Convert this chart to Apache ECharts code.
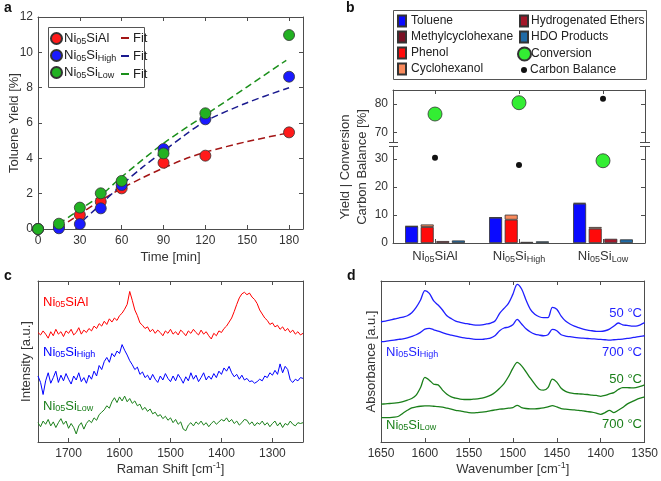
<!DOCTYPE html>
<html><head><meta charset="utf-8">
<script src="https://cdn.jsdelivr.net/npm/echarts@6/dist/echarts.min.js"></script>
<style>html,body{margin:0;padding:0;background:#fff}#c{width:661px;height:481px}</style>
</head><body><div id="c"></div>
<script>
// ---------- Panel a: toluene yield vs time ----------
const timeMin = [0, 15, 30, 45, 60, 90, 120, 180];
const yieldSiAl = [0, 0.12, 0.8, 1.55, 2.3, 3.75, 4.15, 5.47];
const yieldSiHigh = [0, 0.04, 0.28, 1.17, 2.49, 4.53, 6.21, 8.62];
const yieldSiLow = [0, 0.3, 1.21, 2.02, 2.72, 4.28, 6.55, 10.98];
const fitSiAlX = [15, 30, 45, 60, 75, 90, 105, 120, 150, 180];
const fitSiAlY = [0.05, 0.85, 1.62, 2.3, 2.9, 3.45, 3.95, 4.35, 4.95, 5.45];
const fitSiHighX = [27, 30, 45, 60, 75, 90, 105, 120, 150, 180];
const fitSiHighY = [0, 0.3, 1.4, 2.5, 3.5, 4.4, 5.3, 6.1, 7.15, 8.0];
const fitSiLowX = [15, 30, 45, 60, 90, 120, 150, 178];
const fitSiLowY = [0.3, 1.1, 1.9, 2.95, 4.85, 6.45, 8.05, 9.55];

// ---------- Panel b: product yields ----------
const catalysts = ['Ni05SiAl', 'Ni05SiHigh', 'Ni05SiLow'];
const toluene = [5.9, 9.0, 14.0];
const methylcyclohexane = [0.1, 0.1, 0.3];
const phenol = [5.7, 8.3, 5.1];
const cyclohexanol = [0.9, 1.8, 0.6];
const hydrogenatedEthers = [0.7, 0.4, 1.5];
const hdoProducts = [0.9, 0.6, 1.3];
const conversion = [76.5, 80.5, 29.3];
const carbonBalance = [30.4, 27.8, 81.9];
const ticksB_upper = [70, 80];
const ticksB_lower = [0, 10, 20, 30];

// ---------- Panel c: Raman spectra ----------
const ramanShift = [1760,1755,1750,1745,1740,1735,1730,1725,1720,1715,
  1710,1705,1700,1695,1690,1685,1680,1675,1670,1665,
  1660,1655,1650,1645,1640,1635,1630,1625,1620,1615,
  1610,1605,1600,1595,1590,1585,1580,1575,1570,1565,
  1560,1555,1550,1545,1540,1535,1530,1525,1520,1515,
  1510,1505,1500,1495,1490,1485,1480,1475,1470,1465,
  1460,1455,1450,1445,1440,1435,1430,1425,1420,1415,
  1410,1405,1400,1395,1390,1385,1380,1375,1370,1365,
  1360,1355,1350,1345,1340,1335,1330,1325,1320,1315,
  1310,1305,1300,1295,1290,1285,1280,1275,1270,1265,
  1260,1255,1250,1245,1240];
const ramanSiAl = [68,66.5,69,67,64.5,68.5,66,70,67,68.5,
  65.5,69,67.5,70,66.5,68,71,67,69.5,68,
  70.5,69,72,70.5,73.5,72,75,73,76.5,74.5,
  77,75.5,78.5,80,82.5,85.5,93.5,88,82,78.5,
  74,72.5,70.5,71.5,68.5,70,67.5,69.5,68,66,
  69,67.5,70,67,68.5,66.5,69.5,68,66,69,
  67.5,70,68,66.5,69.5,67,68.5,66,64,67.5,
  66,69,68,70.5,72,74.5,77,81,85.5,89.5,
  92,93,91.5,92.5,90,88.5,86,82,79.5,77,
  75.5,73,74,71.5,72.5,70,71.5,69,70.5,68,
  69.5,67,68.5,66.5,67.5];
const ramanSiHigh = [41,37,29.5,38,43,36.5,40,44,37,41.5,
  38,42.5,39,36,41,38.5,43,37.5,40,36.5,
  41.5,39,44,41,47.5,45,50,52.5,49.5,55,
  53,56.5,55,60.5,57,54,50.5,48,45,46.5,
  42,43.5,40,41.5,38.5,42,39,37,41,38.5,
  42.5,39.5,37.5,41,38,42,39.5,36.5,40.5,38,
  43,39,41.5,37.5,40,43,38.5,41,39,42.5,
  40,44,42,46,44,47,43,40.5,42,39,
  41.5,38.5,39.5,37.5,38,36.5,37.5,39,38,41,
  40,43,41.5,44.5,42,48.5,43,47,45,38.5,
  37,39,38,40,39.5];
const ramanSiLow = [12,9.5,13,11,14,10,12.5,9,12,14.5,
  11,13,8.5,11.5,9,5,10,12,8,11.5,
  13.5,12,15,13.5,17,18.5,20,22.5,21,25,
  27.5,24.5,28,25.5,28.5,25,27,24,25.5,22.5,
  23.5,20,21.5,19,20.5,17.5,18.5,16,17,14.5,
  16,13.5,15,12,14,11,12.5,8,7,10.5,
  12,10,12.5,11,13,10.5,12,9.5,11.5,13,
  11,12.5,14,13,15,12.5,14,11.5,13,10.5,
  12,14,13.5,11,12.5,10,12,11,13,10.5,
  12,9.5,11.5,13,10,12,9,11.5,10.5,13,
  11,10,12,11.5,12];
const ticksC_X = [1300, 1400, 1500, 1600, 1700];

// ---------- Panel d: FTIR spectra ----------
const wavenumber = [1650,1645,1640,1635,1630,1625,1620,1615,1610,1605,
  1600,1595,1590,1585,1580,1575,1570,1565,1560,1555,
  1550,1545,1540,1535,1530,1525,1520,1515,1510,1505,
  1500,1495,1490,1485,1480,1475,1470,1465,1460,1455,
  1450,1445,1440,1435,1430,1425,1420,1415,1410,1405,
  1400,1395,1390,1385,1380,1375,1370,1365,1360,1355,
  1350];
const ftirHigh50 = [74.7,75.1,75.7,76.4,77.0,77.6,78.4,80.3,83.6,88.2,
  94.0,92.3,87.6,85.1,82.0,78.4,76.6,75.1,74.3,73.7,
  73.3,72.8,72.6,72.8,73.3,73.9,75.3,79.9,83.0,86.1,
  91.7,97.9,95.0,88.2,82.4,79.3,77.8,77.2,77.2,83.6,
  82.4,78.2,75.1,73.3,72.0,71.0,70.1,69.5,69.1,68.7,
  68.7,69.1,70.1,72.0,73.9,72.8,72.4,72.0,72.0,72.8,
  74.1];
const ftirHigh700 = [62.3,62.5,62.9,63.3,63.7,64.1,64.7,65.6,66.6,68.1,
  70.1,70.6,69.7,68.9,67.9,67.0,66.4,65.8,65.2,64.7,
  64.3,63.9,63.7,63.7,64.1,64.7,66.2,69.1,70.8,71.4,
  72.8,76.2,73.3,70.3,68.3,67.0,66.4,66.0,66.6,69.9,
  69.1,66.6,65.8,65.4,65.0,64.7,64.5,64.3,64.1,63.9,
  63.7,63.5,63.3,63.5,63.7,63.9,64.3,64.7,65.2,65.6,
  66.0];
const ftirLow50 = [23.5,23.7,23.9,24.1,24.5,25.1,26.0,27.0,29.1,33.8,
  40.1,38.4,35.9,35.5,32.2,29.7,28.0,27.2,26.6,26.4,
  26.4,26.6,26.8,27.2,28.0,29.1,30.9,33.4,36.3,40.5,
  45.7,49.4,47.3,43.6,39.6,35.9,32.8,32.2,33.8,39.0,
  37.2,33.4,31.4,30.5,30.1,29.9,29.7,29.5,29.1,28.9,
  28.4,28.9,29.9,30.7,32.6,33.8,33.8,33.6,33.8,34.5,
  35.5];
const ftirLow700 = [15.2,15.2,15.2,15.4,16.0,17.9,19.7,21.2,21.8,22.2,
  22.4,22.4,22.2,22.0,21.6,21.0,20.4,19.7,19.3,18.7,
  18.3,18.1,18.3,18.5,18.9,19.5,19.9,20.4,20.6,21.0,
  21.4,22.8,21.4,20.8,20.6,20.6,20.8,21.2,21.8,22.6,
  21.8,20.8,20.4,20.1,19.9,19.7,19.3,18.9,18.5,17.9,
  17.2,18.3,19.7,18.3,19.7,21.4,23.5,24.9,26.2,27.2,
  28.0];

// ---------- helpers ----------
const FONT = 'Liberation Sans';
const AX = '#4d4d4d', TXT = '#333';
const zip = (xs, ys) => xs.map((x, i) => [x, ys[i]]);
const plain = v => String(v);
const richName = n => {
  const rest = n.replace('Ni05Si', '');
  return 'Ni{s|05}Si' + (rest === 'Al' ? 'Al' : '{s|' + rest + '}');
};
const subRich = { s: { fontSize: 9, lineHeight: 9, padding: [6, 0, 0, 0], fontFamily: FONT } };
const supRich = { sup: { fontSize: 9, lineHeight: 9, padding: [0, 0, 7, 0], fontFamily: FONT } };
const axisLine = { show: true, onZero: false, lineStyle: { color: AX, width: 1 } };
const tickIn = { show: true, inside: true, length: 4, lineStyle: { color: AX } };
const lbl = { color: TXT, fontSize: 12, fontFamily: FONT, formatter: plain };
const nameTS = { color: TXT, fontSize: 13, fontFamily: FONT };
const noSplit = { show: false };

const colAl = '#ff1a1a', colHigh = '#1a1aff', colLow = '#22b122';
const cRed = '#ff0000', cBlue = '#0000ff', cGreen = '#1a7f1a';

const xAxis = [
  { gridIndex: 0, type: 'value', min: 0, max: 190, interval: 30, axisLine, axisTick: tickIn, splitLine: noSplit,
    axisLabel: { ...lbl, margin: 6, showMaxLabel: false }, name: 'Time [min]', nameLocation: 'middle', nameGap: 22, nameTextStyle: nameTS },
  { gridIndex: 0, type: 'value', position: 'top', min: 0, max: 190, interval: 30, axisLine, axisTick: tickIn, splitLine: noSplit, axisLabel: { show: false } },
  { gridIndex: 1, type: 'category', data: catalysts, show: false },
  { gridIndex: 1, type: 'category', position: 'top', data: catalysts, axisLine, axisTick: { ...tickIn, alignWithLabel: true }, axisLabel: { show: false } },
  { gridIndex: 2, type: 'category', data: catalysts, axisLine, axisTick: { ...tickIn, alignWithLabel: true },
    axisLabel: { ...lbl, fontSize: 13, margin: 7, interval: 0, hideOverlap: false, formatter: v => richName(v), rich: subRich } },
  { gridIndex: 3, type: 'value', min: 1240, max: 1760, inverse: true, axisLine, axisTick: { ...tickIn, customValues: ticksC_X }, splitLine: noSplit,
    axisLabel: { ...lbl, margin: 6, customValues: ticksC_X }, name: 'Raman Shift [cm{sup|-1}]', nameLocation: 'middle', nameGap: 21, nameTextStyle: { ...nameTS, rich: supRich } },
  { gridIndex: 3, type: 'value', position: 'top', min: 1240, max: 1760, inverse: true, axisLine, axisTick: { ...tickIn, customValues: ticksC_X }, splitLine: noSplit, axisLabel: { show: false } },
  { gridIndex: 4, type: 'value', min: 1350, max: 1650, interval: 50, inverse: true, axisLine, axisTick: tickIn, splitLine: noSplit,
    axisLabel: { ...lbl, margin: 6 }, name: 'Wavenumber [cm{sup|-1}]', nameLocation: 'middle', nameGap: 21, nameTextStyle: { ...nameTS, rich: supRich } },
  { gridIndex: 4, type: 'value', position: 'top', min: 1350, max: 1650, interval: 50, inverse: true, axisLine, axisTick: tickIn, splitLine: noSplit, axisLabel: { show: false } }
];

const yAxis = [
  { gridIndex: 0, type: 'value', min: 0, max: 12, interval: 2, axisLine, axisTick: tickIn, splitLine: noSplit,
    axisLabel: { ...lbl, margin: 5 }, name: 'Toluene Yield [%]', nameLocation: 'middle', nameGap: 17, nameMoveOverlap: false, nameTextStyle: nameTS },
  { gridIndex: 0, type: 'value', position: 'right', min: 0, max: 12, interval: 2, axisLine, axisTick: tickIn, splitLine: noSplit, axisLabel: { show: false } },
  { gridIndex: 1, type: 'value', min: 66.6, max: 85, axisLine, axisTick: { ...tickIn, customValues: ticksB_upper }, splitLine: noSplit,
    axisLabel: { ...lbl, margin: 5, customValues: ticksB_upper } },
  { gridIndex: 1, type: 'value', position: 'right', min: 66.6, max: 85, axisLine, axisTick: { ...tickIn, customValues: ticksB_upper }, splitLine: noSplit, axisLabel: { show: false } },
  { gridIndex: 2, type: 'value', min: 0, max: 34.2, axisLine, axisTick: { ...tickIn, customValues: ticksB_lower }, splitLine: noSplit,
    axisLabel: { ...lbl, margin: 5, customValues: ticksB_lower } },
  { gridIndex: 2, type: 'value', position: 'right', min: 0, max: 34.2, axisLine, axisTick: { ...tickIn, customValues: ticksB_lower }, splitLine: noSplit, axisLabel: { show: false } },
  { gridIndex: 3, type: 'value', min: 0, max: 100, axisLine, axisTick: { show: false }, splitLine: noSplit, axisLabel: { show: false },
    name: 'Intensity [a.u.]', nameLocation: 'middle', nameGap: 5, nameTextStyle: nameTS },
  { gridIndex: 3, type: 'value', position: 'right', min: 0, max: 100, axisLine, axisTick: { show: false }, splitLine: noSplit, axisLabel: { show: false } },
  { gridIndex: 4, type: 'value', min: 0, max: 100, axisLine, axisTick: { show: false }, splitLine: noSplit, axisLabel: { show: false },
    name: 'Absorbance [a.u.]', nameLocation: 'middle', nameGap: 3, nameTextStyle: nameTS },
  { gridIndex: 4, type: 'value', position: 'right', min: 0, max: 100, axisLine, axisTick: { show: false }, splitLine: noSplit, axisLabel: { show: false } }
];

const grid = [
  { left: 38, top: 17, width: 265, height: 212 },
  { left: 393, top: 90, width: 252, height: 52 },
  { left: 393, top: 147, width: 252, height: 96 },
  { left: 38, top: 281, width: 265, height: 161 },
  { left: 381, top: 281, width: 265, height: 161 }
];

const scatA = (name, ys, color) => ({ type: 'scatter', name, xAxisIndex: 0, yAxisIndex: 0, data: zip(timeMin, ys), symbolSize: 11,
  itemStyle: { color, borderColor: '#333', borderWidth: 0.8, opacity: 1 }, z: 3 });
const fitA = (name, xs, ys, color) => ({ type: 'line', name, xAxisIndex: 0, yAxisIndex: 0, data: zip(xs, ys), symbol: 'none', showSymbol: false,
  smooth: 0.3, lineStyle: { color, width: 1.5, type: [7, 4] }, itemStyle: { color }, z: 2 });
const barB = (name, data, stack, color) => ({ type: 'bar', name, xAxisIndex: 4, yAxisIndex: 4, data, stack, barWidth: 13, barGap: '20%',
  itemStyle: { color, borderColor: '#333', borderWidth: 0.8 } });
const ptB = (name, vals, upper, size, color) => ({ type: 'scatter', name, xAxisIndex: upper ? 3 : 4, yAxisIndex: upper ? 2 : 4,
  data: vals.map(v => upper ? (v >= 66.6 ? v : '-') : (v <= 34.2 ? v : '-')), symbolSize: size,
  itemStyle: { color, borderColor: '#333', borderWidth: size > 8 ? 0.8 : 0, opacity: 1 }, z: 4 });
const specC = (name, ys, color) => ({ type: 'line', name, xAxisIndex: 5, yAxisIndex: 6, data: zip(ramanShift, ys), symbol: 'none', showSymbol: false,
  lineStyle: { color, width: 1 } });
const specD = (name, ys, color) => ({ type: 'line', name, xAxisIndex: 7, yAxisIndex: 8, data: zip(wavenumber, ys), symbol: 'none', showSymbol: false,
  smooth: 0.3, lineStyle: { color, width: 1.3 } });

const series = [
  fitA('Fit Ni05SiAl', fitSiAlX, fitSiAlY, '#a31515'),
  fitA('Fit Ni05SiHigh', fitSiHighX, fitSiHighY, '#1a1a8f'),
  fitA('Fit Ni05SiLow', fitSiLowX, fitSiLowY, '#1a8f1a'),
  scatA('Ni05SiAl', yieldSiAl, colAl),
  scatA('Ni05SiHigh', yieldSiHigh, colHigh),
  scatA('Ni05SiLow', yieldSiLow, colLow),
  barB('Toluene', toluene, 'tol', '#0a0aff'),
  barB('Methylcyclohexane', methylcyclohexane, 'tol', '#7a1024'),
  barB('Phenol', phenol, 'phe', '#ff0a0a'),
  barB('Cyclohexanol', cyclohexanol, 'phe', '#f98a5c'),
  barB('Hydrogenated Ethers', hydrogenatedEthers, undefined, '#a3182a'),
  barB('HDO Products', hdoProducts, undefined, '#1f6aa5'),
  ptB('Conversion', conversion, true, 14, '#33ee33'),
  ptB('Conversion', conversion, false, 14, '#33ee33'),
  ptB('Carbon Balance', carbonBalance, true, 6, '#111'),
  ptB('Carbon Balance', carbonBalance, false, 6, '#111'),
  specC('Raman Ni05SiAl', ramanSiAl, cRed),
  specC('Raman Ni05SiHigh', ramanSiHigh, cBlue),
  specC('Raman Ni05SiLow', ramanSiLow, cGreen),
  specD('FTIR Ni05SiHigh 50', ftirHigh50, '#1f1fff'),
  specD('FTIR Ni05SiHigh 700', ftirHigh700, '#1f1fff'),
  specD('FTIR Ni05SiLow 50', ftirLow50, cGreen),
  specD('FTIR Ni05SiLow 700', ftirLow700, cGreen)
];

const legTS = { color: '#222', fontSize: 12, fontFamily: FONT, lineHeight: 13 };
const legend = [
  { data: ['Ni05SiAl', 'Ni05SiHigh', 'Ni05SiLow'], orient: 'vertical', left: 50, top: 31, padding: 0, itemGap: 2,
    itemWidth: 11, itemHeight: 11, icon: 'circle', selectedMode: false, formatter: n => richName(n),
    textStyle: { ...legTS, fontSize: 13, lineHeight: 14, padding: [0, 0, 0, -3], rich: subRich } },
  { data: ['Fit Ni05SiAl', 'Fit Ni05SiHigh', 'Fit Ni05SiLow'], orient: 'vertical', left: 121, top: 31, padding: 0, itemGap: 4,
    itemWidth: 8, itemHeight: 2, icon: 'rect', selectedMode: false, formatter: () => 'Fit',
    textStyle: { ...legTS, fontSize: 13, lineHeight: 14, padding: [0, 0, 0, -1] } },
  { data: ['Toluene', 'Methylcyclohexane', 'Phenol', 'Cyclohexanol'], orient: 'vertical', left: 397, top: 14.5, padding: 0, itemGap: 3,
    itemWidth: 8, itemHeight: 11, icon: 'rect', selectedMode: false, textStyle: legTS },
  { data: ['Hydrogenated Ethers', 'HDO Products'], orient: 'vertical', left: 519, top: 14.5, padding: 0, itemGap: 3,
    itemWidth: 8, itemHeight: 11, icon: 'rect', selectedMode: false, textStyle: { ...legTS, padding: [0, 0, 0, -2] } },
  { data: ['Conversion'], orient: 'vertical', left: 517, top: 46.5, padding: 0, itemWidth: 13, itemHeight: 13, icon: 'circle',
    selectedMode: false, textStyle: { ...legTS, padding: [0, 0, 0, -5] } },
  { data: ['Carbon Balance'], orient: 'vertical', left: 521, top: 63.5, padding: 0, itemWidth: 6, itemHeight: 6, icon: 'circle',
    selectedMode: false, textStyle: { ...legTS, padding: [0, 0, 0, -2] } }
];

const labTxt = (x, y, text, fill, align) => ({ type: 'text', z: 10, style: { x, y, text, fill, rich: subRich,
  font: '13px "Liberation Sans"', align: align || 'left', verticalAlign: 'middle', textAlign: align || 'left', textVerticalAlign: 'middle' } });
const letter = (x, y, t) => ({ type: 'text', z: 10, style: { x, y, text: t, fill: '#111', font: 'bold 14px "Liberation Sans"',
  verticalAlign: 'middle', textVerticalAlign: 'middle' } });
const seg = (x1, y1, x2, y2) => ({ type: 'line', z: 10, shape: { x1, y1, x2, y2 }, style: { stroke: AX, lineWidth: 1 } });

const graphic = [
  letter(4, 8, 'a'), letter(346, 8, 'b'), letter(4, 276, 'c'), letter(347, 276, 'd'),
  { type: 'rect', z: 3, shape: { x: 48.5, y: 27.5, width: 96, height: 60 }, style: { fill: '#fff', stroke: '#555', lineWidth: 1 } },
  { type: 'rect', z: 3, shape: { x: 393.5, y: 10.5, width: 253, height: 69 }, style: { fill: '#fff', stroke: '#555', lineWidth: 1 } },
  seg(389, 142.5, 398, 142.5), seg(389, 146.5, 398, 146.5), seg(640, 142.5, 650, 142.5), seg(640, 146.5, 650, 146.5),
  { type: 'text', z: 10, x: 354, y: 167, rotation: Math.PI / 2, style: { x: 0, y: 0, text: 'Yield | Conversion\nCarbon Balance [%]',
    fill: TXT, font: '13px "Liberation Sans"', lineHeight: 17, align: 'center', verticalAlign: 'middle', textAlign: 'center', textVerticalAlign: 'middle' } },
  labTxt(43, 302, richName('Ni05SiAl'), cRed),
  labTxt(43, 352, richName('Ni05SiHigh'), cBlue),
  labTxt(43, 406, richName('Ni05SiLow'), cGreen),
  labTxt(386, 352, richName('Ni05SiHigh'), '#1f1fff'),
  labTxt(386, 425, richName('Ni05SiLow'), cGreen),
  labTxt(642, 313, '50 °C', '#1f1fff', 'right'),
  labTxt(642, 352, '700 °C', '#1f1fff', 'right'),
  labTxt(642, 379, '50 °C', cGreen, 'right'),
  labTxt(642, 424, '700 °C', cGreen, 'right')
];

const chart = echarts.init(document.getElementById('c'), null, { renderer: 'canvas', width: 661, height: 481 });
chart.setOption({
  backgroundColor: '#fff',
  animation: false,
  textStyle: { fontFamily: FONT },
  grid, xAxis, yAxis, series, legend, graphic
});
</script>
</body></html>
